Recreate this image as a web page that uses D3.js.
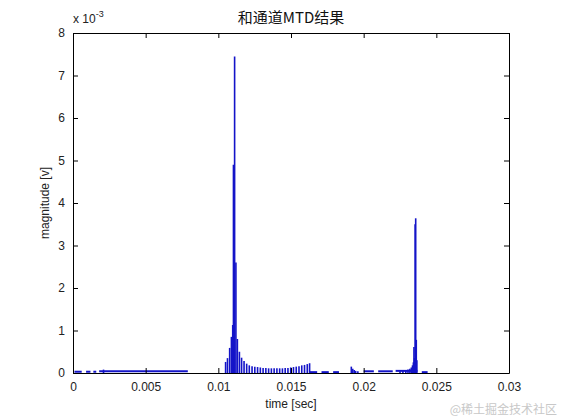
<!DOCTYPE html>
<html>
<head>
<meta charset="utf-8">
<script src="https://cdn.jsdelivr.net/npm/d3@7"></script>
<style>
    body { margin: 0; background: #fff; }
    text { font-family: "Liberation Sans", Arial, sans-serif; }
</style>
</head>
<body>
<svg id="chart" width="561" height="420"></svg>
<script>
const TITLE = '和通道MTD结果';
const X_LABEL = 'time [sec]';
const Y_LABEL = 'magnitude [v]';
const WATERMARK = '@稀土掘金技术社区';

const xTicks = [0, 0.005, 0.01, 0.015, 0.02, 0.025, 0.03];
const xTickLabels = ['0', '0.005', '0.01', '0.015', '0.02', '0.025', '0.03'];
const yTicks = [0, 1, 2, 3, 4, 5, 6, 7, 8];

// spikes, time [sec] / magnitude [x 1e-3 v]
const spikeTime = [
    0.00210,
    0.01050, 0.01063, 0.01078, 0.01090, 0.01099, 0.01104, 0.01112, 0.01121,
    0.01131, 0.01145, 0.01160, 0.01177, 0.01195, 0.01213, 0.01232, 0.01251,
    0.01270, 0.01289, 0.01308, 0.01327, 0.01346, 0.01365, 0.01384, 0.01403,
    0.01422, 0.01441, 0.01460, 0.01479, 0.01498, 0.01517, 0.01536, 0.01555,
    0.01574, 0.01593, 0.01612, 0.01628,
    0.01915, 0.01925, 0.01935, 0.01945, 0.01960,
    0.02250, 0.02270, 0.02290, 0.02305, 0.02318, 0.02328, 0.02336, 0.02342,
    0.02346, 0.02350, 0.02354, 0.02358, 0.02362, 0.02366
];
const spikeMag = [
    0.08,
    0.26, 0.35, 0.59, 0.85, 1.13, 4.90, 7.45, 2.60,
    0.80, 0.50, 0.36, 0.28, 0.22, 0.18, 0.16, 0.15,
    0.14, 0.13, 0.12, 0.12, 0.11, 0.11, 0.11, 0.11,
    0.11, 0.11, 0.12, 0.12, 0.13, 0.14, 0.15, 0.16,
    0.18, 0.19, 0.21, 0.23,
    0.15, 0.10, 0.07, 0.05, 0.04,
    0.04, 0.05, 0.06, 0.08, 0.10, 0.13, 0.18, 0.25,
    0.61, 0.35, 3.50, 3.64, 0.78, 0.30
];

// low-level stretches that sit on the axis
const baseStart = [0.0001, 0.0009, 0.0014, 0.0018, 0.0163, 0.0171, 0.0179, 0.0200, 0.0210, 0.0222, 0.0240];
const baseEnd   = [0.0006, 0.0012, 0.0016, 0.0079, 0.0168, 0.0176, 0.0183, 0.0207, 0.0220, 0.0237, 0.0244];
const baseMag   = [0.03, 0.03, 0.03, 0.04, 0.02, 0.02, 0.02, 0.04, 0.04, 0.05, 0.02];

let svg = d3.select('#chart');
let margin = {left: 73, right: 52, top: 33, bottom: 47};
let width = +svg.attr('width') - margin.left - margin.right,
    height = +svg.attr('height') - margin.top - margin.bottom;

let x = d3.scaleLinear().domain([0, 0.03]).range([0, width]);
let y = d3.scaleLinear().domain([0, 8]).range([height, 0]);

let g = svg.append('g')
    .attr('transform', 'translate(' + margin.left + ',' + margin.top + ')');

// data
g.append('g')
    .selectAll('line')
    .data(baseStart)
    .enter().append('line')
    .attr('x1', function (d) { return x(d); })
    .attr('x2', function (d, i) { return x(baseEnd[i]); })
    .attr('y1', function (d, i) { return y(baseMag[i]); })
    .attr('y2', function (d, i) { return y(baseMag[i]); })
    .attr('stroke', '#1414c8')
    .attr('stroke-width', 2);

g.append('g')
    .selectAll('line')
    .data(spikeTime)
    .enter().append('line')
    .attr('x1', function (d) { return x(d); })
    .attr('x2', function (d) { return x(d); })
    .attr('y1', y(0))
    .attr('y2', function (d, i) { return y(spikeMag[i]); })
    .attr('stroke', '#1414c8')
    .attr('stroke-width', 1.6);

// axes, MATLAB style: box with inward ticks
function styleAxis(sel) {
    sel.select('.domain').attr('stroke', '#000');
    sel.selectAll('.tick line').attr('stroke', '#000');
    sel.selectAll('.tick text')
        .attr('fill', '#222')
        .style('font-size', '12px');
}

let xFmt = function (d, i) { return xTickLabels[i]; };

g.append('g')
    .attr('transform', 'translate(0,' + height + ')')
    .call(d3.axisBottom(x).tickValues(xTicks).tickFormat(xFmt).tickSizeInner(-5).tickSizeOuter(0).tickPadding(9))
    .call(styleAxis);

g.append('g')
    .call(d3.axisTop(x).tickValues(xTicks).tickFormat('').tickSizeInner(-5).tickSizeOuter(0))
    .call(styleAxis);

g.append('g')
    .call(d3.axisLeft(y).tickValues(yTicks).tickFormat(d3.format('d')).tickSizeInner(-5).tickSizeOuter(0).tickPadding(8))
    .call(styleAxis);

g.append('g')
    .attr('transform', 'translate(' + width + ',0)')
    .call(d3.axisRight(y).tickValues(yTicks).tickFormat('').tickSizeInner(-5).tickSizeOuter(0))
    .call(styleAxis);

// labels
svg.append('text')
    .attr('x', margin.left + width / 2)
    .attr('y', 23)
    .attr('text-anchor', 'middle')
    .style('font-family', '"Noto Sans CJK SC", sans-serif')
    .style('font-size', '15px')
    .attr('fill', '#111')
    .text(TITLE);

let mult = svg.append('text')
    .attr('x', margin.left)
    .attr('y', 23)
    .style('font-size', '12px')
    .attr('fill', '#222');
mult.append('tspan').text('x 10');
mult.append('tspan').attr('dy', -6).style('font-size', '9px').text('-3');

svg.append('text')
    .attr('x', margin.left + width / 2)
    .attr('y', 408)
    .attr('text-anchor', 'middle')
    .style('font-size', '12px')
    .attr('fill', '#222')
    .text(X_LABEL);

svg.append('text')
    .attr('transform', 'translate(49,' + (margin.top + height / 2) + ') rotate(-90)')
    .attr('text-anchor', 'middle')
    .style('font-size', '12px')
    .attr('fill', '#222')
    .text(Y_LABEL);

svg.append('text')
    .attr('x', 557)
    .attr('y', 414)
    .attr('text-anchor', 'end')
    .style('font-family', '"Noto Sans CJK SC", sans-serif')
    .style('font-size', '12px')
    .attr('fill', '#c8c8c8')
    .text(WATERMARK);
</script>
</body>
</html>
